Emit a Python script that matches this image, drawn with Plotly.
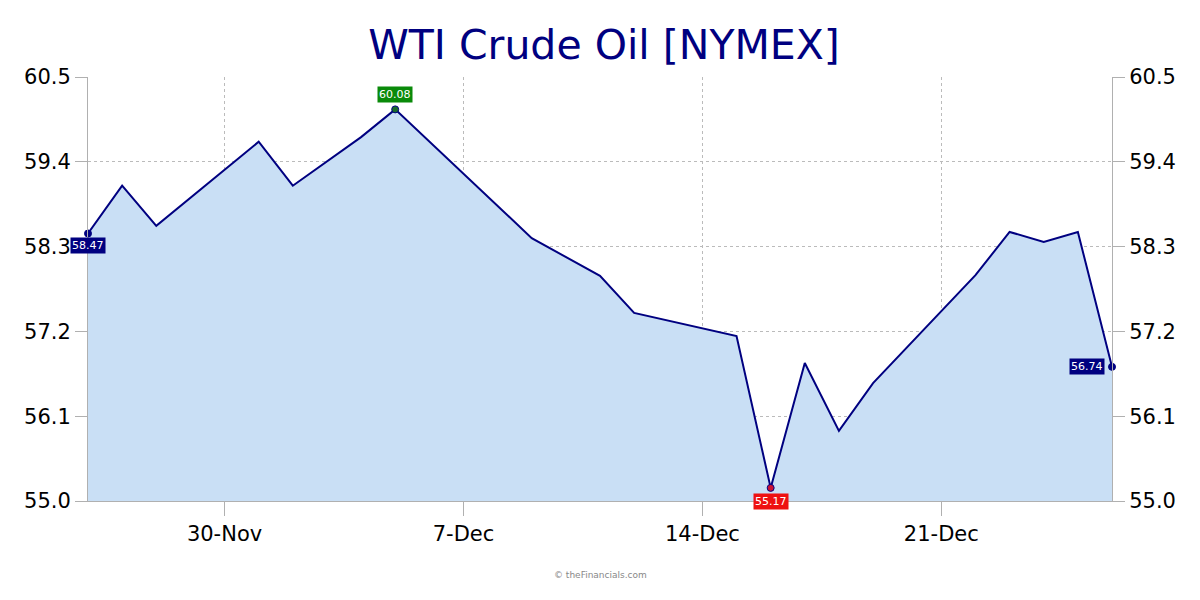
import plotly.graph_objects as go

dates = ["2025-11-26", "2025-11-27", "2025-11-28", "2025-12-01", "2025-12-02",
         "2025-12-04", "2025-12-05", "2025-12-09", "2025-12-11", "2025-12-12",
         "2025-12-15", "2025-12-16", "2025-12-17", "2025-12-18", "2025-12-19",
         "2025-12-22", "2025-12-23", "2025-12-24", "2025-12-25", "2025-12-26"]
prices = [58.47, 59.09, 58.57, 59.66, 59.09,
          59.72, 60.08, 58.41, 57.92, 57.44,
          57.14, 55.17, 56.79, 55.91, 56.53,
          57.93, 58.49, 58.36, 58.49, 56.74]

tick_dates = ["2025-11-30", "2025-12-07", "2025-12-14", "2025-12-21"]
tick_labels = ["30-Nov", "7-Dec", "14-Dec", "21-Dec"]
y_ticks = [55.0, 56.1, 57.2, 58.3, 59.4, 60.5]
y_tick_labels = ["55.0", "56.1", "57.2", "58.3", "59.4", "60.5"]

title_text = "WTI Crude Oil [NYMEX]"
credit_text = "© theFinancials.com"

NAVY = "#000080"
GREEN = "#0a8a0a"
RED = "#ee1111"

i_first = 0
i_last = len(prices) - 1
i_max = max(range(len(prices)), key=lambda i: prices[i])
i_min = min(range(len(prices)), key=lambda i: prices[i])

fig = go.Figure()

fig.add_trace(go.Scatter(
    x=dates, y=prices, mode="lines",
    line=dict(color=NAVY, width=2),
    fill="tozeroy", fillcolor="#c9dff5",
    showlegend=False, hoverinfo="x+y",
))

mk_idx = [i_first, i_last, i_max, i_min]
mk_colors = [NAVY, NAVY, "#1a6b2a", "#cc1133"]
fig.add_trace(go.Scatter(
    x=[dates[i] for i in mk_idx], y=[prices[i] for i in mk_idx],
    mode="markers",
    marker=dict(color=mk_colors, size=7, line=dict(color=NAVY, width=1)),
    showlegend=False, cliponaxis=False,
))

# dummy trace so the right-hand axis is drawn
fig.add_trace(go.Scatter(
    x=[dates[0]], y=[prices[0]], yaxis="y2", mode="markers",
    marker=dict(opacity=0), showlegend=False, hoverinfo="skip",
))

lab_font = dict(family="DejaVu Sans", size=11, color="white")
fig.add_annotation(x=dates[i_first], y=prices[i_first], text=f"{prices[i_first]:.2f}",
                   showarrow=False, xanchor="center", yanchor="top", yshift=-4,
                   bgcolor=NAVY, font=lab_font, borderpad=1)
fig.add_annotation(x=dates[i_last], y=prices[i_last], text=f"{prices[i_last]:.2f}",
                   showarrow=False, xanchor="right", yanchor="middle", xshift=-7,
                   bgcolor=NAVY, font=lab_font, borderpad=1)
fig.add_annotation(x=dates[i_max], y=prices[i_max], text=f"{prices[i_max]:.2f}",
                   showarrow=False, xanchor="center", yanchor="bottom", yshift=6,
                   bgcolor=GREEN, font=lab_font, borderpad=1)
fig.add_annotation(x=dates[i_min], y=prices[i_min], text=f"{prices[i_min]:.2f}",
                   showarrow=False, xanchor="center", yanchor="top", yshift=-5,
                   bgcolor=RED, font=lab_font, borderpad=1)

fig.add_annotation(x=0.5, y=-0.1745, xref="paper", yref="paper", yanchor="middle",
                   text=credit_text, showarrow=False,
                   font=dict(family="DejaVu Sans", size=9, color="#888888"))

axis_font = dict(family="DejaVu Sans", size=21, color="#000000")
fig.update_layout(
    width=1192, height=592,
    margin=dict(l=80, r=88, t=69, b=99),
    paper_bgcolor="white", plot_bgcolor="white",
    title=dict(text=title_text, x=0.5, xanchor="center", y=0.9375, yanchor="middle",
               font=dict(family="DejaVu Sans", size=41, color=NAVY)),
    xaxis=dict(
        range=[dates[0], dates[-1]], tickmode="array",
        tickvals=tick_dates, ticktext=tick_labels,
        showgrid=True, gridcolor="#bbbbbb", griddash="dot", gridwidth=1,
        showline=True, linecolor="#b0b0b0", linewidth=1,
        ticks="outside", ticklen=14, tickcolor="#b0b0b0",
        tickfont=axis_font, zeroline=False,
    ),
    yaxis=dict(
        range=[55.0, 60.5], tickmode="array", tickvals=y_ticks, ticktext=y_tick_labels,
        showgrid=True, gridcolor="#bbbbbb", griddash="dot", gridwidth=1,
        showline=True, linecolor="#b0b0b0", linewidth=1,
        ticks="outside", ticklen=12, tickcolor="#b0b0b0",
        tickfont=axis_font, zeroline=False,
    ),
    yaxis2=dict(
        range=[55.0, 60.5], tickmode="array", tickvals=y_ticks, ticktext=y_tick_labels,
        overlaying="y", side="right", showgrid=False,
        showline=True, linecolor="#b0b0b0", linewidth=1,
        ticks="outside", ticklen=12, tickcolor="#b0b0b0",
        tickfont=axis_font, zeroline=False,
    ),
)

fig.write_html("out.html")
